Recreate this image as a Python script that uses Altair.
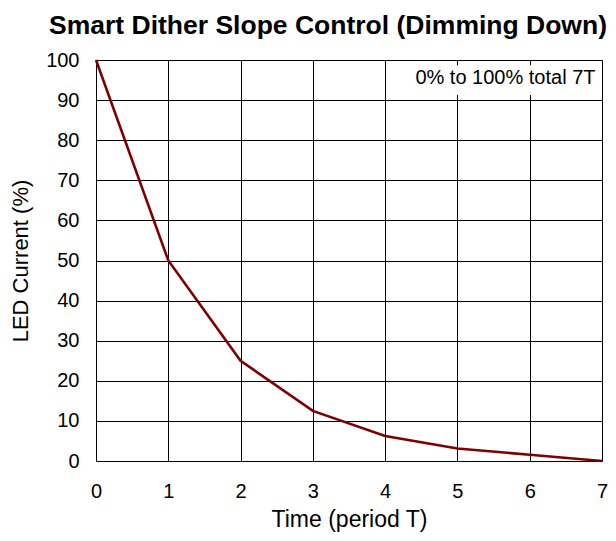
import altair as alt
import pandas as pd

time_t = [0, 1, 2, 3, 4, 5, 6, 7]
led_current = [100, 50, 25, 12.5, 6.25, 3.125, 1.56, 0]
x_ticks = [0, 1, 2, 3, 4, 5, 6, 7]
y_ticks = [0, 10, 20, 30, 40, 50, 60, 70, 80, 90, 100]
note_text = ["0% to 100% total 7T"]

df = pd.DataFrame({"t": time_t, "v": led_current})

FONT = "Liberation Sans"

x_scale = alt.Scale(domain=[0, 7], nice=False, zero=False)
y_scale = alt.Scale(domain=[0, 100], nice=False)

line = alt.Chart(df).mark_line(color="#800000", strokeWidth=2.6).encode(
    x=alt.X("t:Q", scale=x_scale,
            axis=alt.Axis(values=x_ticks, format="d", title="Time (period T)", grid=True,
                          gridColor="black", gridOpacity=1, gridWidth=1,
                          tickSize=0, labelPadding=20, labelFontSize=20,
                          titleFontSize=23, titleFontWeight="normal",
                          titlePadding=7, domain=False, labelColor="black",
                          titleColor="black", labelFont=FONT, titleFont=FONT,
                          labelFlush=False)),
    y=alt.Y("v:Q", scale=y_scale,
            axis=alt.Axis(values=y_ticks, format="d", title="LED Current (%)", grid=True,
                          gridColor="black", gridOpacity=1, gridWidth=1,
                          tickSize=0, labelPadding=17, labelFontSize=20,
                          titleFontSize=22, titleFontWeight="normal",
                          titlePadding=13, domain=False, labelColor="black",
                          titleColor="black", labelFont=FONT, titleFont=FONT,
                          labelFlush=False)),
)

box_df = pd.DataFrame({"x1": [4.3], "x2": [6.985], "y1": [98.7], "y2": [91.3]})
box = alt.Chart(box_df).mark_rect(color="white").encode(
    x="x1:Q", x2="x2:Q", y="y1:Q", y2="y2:Q"
)

note_df = pd.DataFrame({"x": [6.91], "y": [95.6], "label": note_text})
note = alt.Chart(note_df).mark_text(
    align="right", baseline="middle", fontSize=20, font=FONT, color="black"
).encode(x="x:Q", y="y:Q", text="label:N")

chart = alt.layer(box, line, note).properties(
    width=506,
    height=401,
    autosize=alt.AutoSizeParams(type="none"),
    padding={"left": 88, "top": 52, "right": 6, "bottom": 72},
    title=alt.TitleParams(
        "Smart Dither Slope Control (Dimming Down)",
        font=FONT, fontSize=26.5, fontWeight="bold", color="black",
        anchor="middle", dx=-21, offset=11,
    ),
).configure_view(stroke="black", strokeWidth=1.8).configure(background="white")

chart.save("out.html", embed_options={"renderer": "svg", "actions": False})
